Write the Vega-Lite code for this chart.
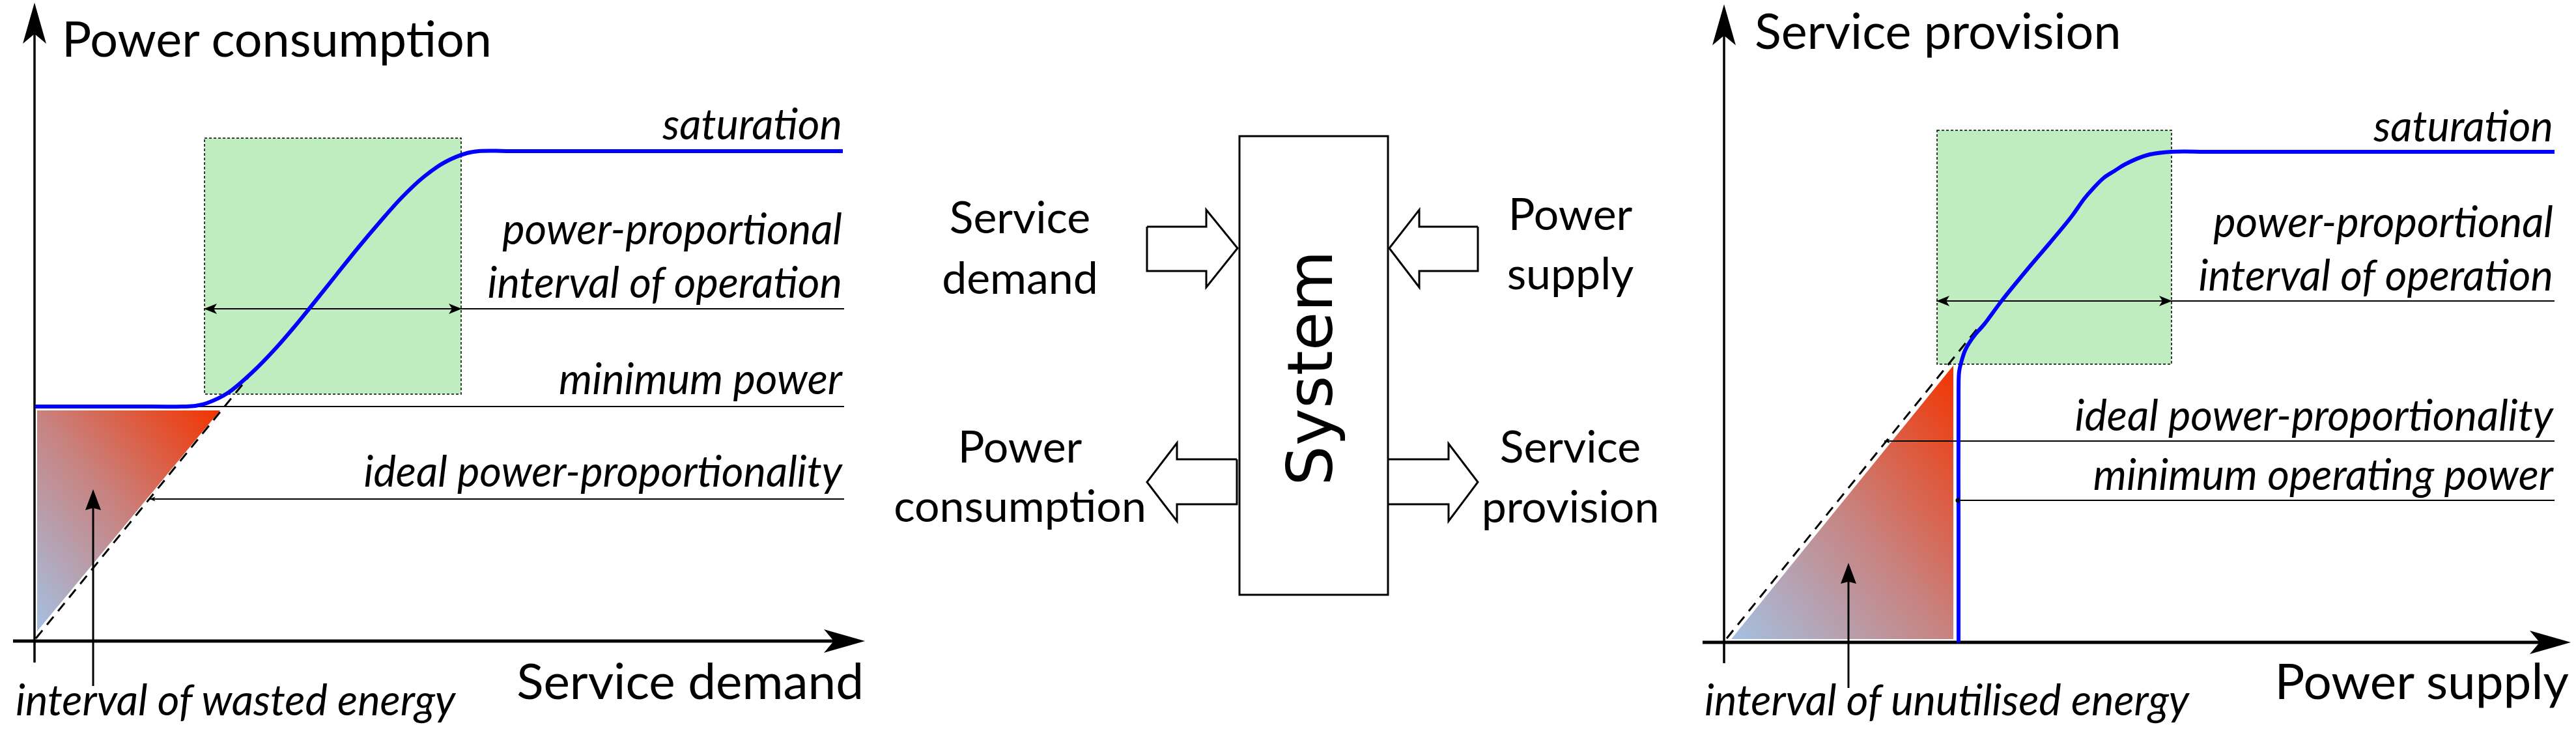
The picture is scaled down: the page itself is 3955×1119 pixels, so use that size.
{
  "$schema": "https://vega.github.io/schema/vega-lite/v6.json",
  "width": 3955,
  "height": 1119,
  "padding": 0,
  "autosize": {"type": "none"},
  "background": "white",
  "config": {"view": {"stroke": null}},
  "datasets": {
    "zones": [
      {"panel": "demand", "x": 314, "x2": 708, "y": 212, "y2": 605},
      {"panel": "supply", "x": 2974, "x2": 3334, "y": 200, "y2": 559}
    ],
    "wedges": [
      {"tri": "wasted", "x": 57, "y": 630, "y2": 969},
      {"tri": "wasted", "x": 338, "y": 630, "y2": 630},
      {"tri": "unutilised", "x": 2658, "y": 981, "y2": 981},
      {"tri": "unutilised", "x": 2999, "y": 561, "y2": 981}
    ],
    "ideal": [
      {"x": 55, "y": 980, "x2": 392, "y2": 566},
      {"x": 2651, "y": 980, "x2": 3037, "y2": 503}
    ],
    "guides": [
      {"x": 54, "y": 624, "x2": 1296, "y2": 624},
      {"x": 313, "y": 474, "x2": 1296, "y2": 474},
      {"x": 230, "y": 766, "x2": 1296, "y2": 766},
      {"x": 2973, "y": 462, "x2": 3922, "y2": 462},
      {"x": 2893, "y": 677, "x2": 3922, "y2": 677},
      {"x": 3005, "y": 768, "x2": 3922, "y2": 768}
    ],
    "yaxes": [
      {"x": 53, "y": 40, "x2": 53, "y2": 1017},
      {"x": 2647, "y": 42, "x2": 2647, "y2": 1018}
    ],
    "xaxes": [
      {"x": 20, "y": 984, "x2": 1290, "y2": 984},
      {"x": 2614, "y": 986, "x2": 3905, "y2": 986}
    ],
    "shafts": [
      {"x": 143, "y": 780, "x2": 143, "y2": 1053},
      {"x": 2838, "y": 893, "x2": 2838, "y2": 1056}
    ],
    "curves": [
      {"c": "consumption", "i": 0, "x": 54, "y": 624},
      {"c": "consumption", "i": 1, "x": 200, "y": 624},
      {"c": "consumption", "i": 2, "x": 280, "y": 624},
      {"c": "consumption", "i": 3, "x": 300, "y": 623},
      {"c": "consumption", "i": 4, "x": 317, "y": 619},
      {"c": "consumption", "i": 5, "x": 350, "y": 603},
      {"c": "consumption", "i": 6, "x": 390, "y": 569},
      {"c": "consumption", "i": 7, "x": 423, "y": 535},
      {"c": "consumption", "i": 8, "x": 450, "y": 504},
      {"c": "consumption", "i": 9, "x": 477, "y": 471},
      {"c": "consumption", "i": 10, "x": 517, "y": 421},
      {"c": "consumption", "i": 11, "x": 550, "y": 380},
      {"c": "consumption", "i": 12, "x": 583, "y": 341},
      {"c": "consumption", "i": 13, "x": 617, "y": 303},
      {"c": "consumption", "i": 14, "x": 650, "y": 272},
      {"c": "consumption", "i": 15, "x": 683, "y": 249},
      {"c": "consumption", "i": 16, "x": 717, "y": 235},
      {"c": "consumption", "i": 17, "x": 735, "y": 232},
      {"c": "consumption", "i": 18, "x": 800, "y": 232},
      {"c": "consumption", "i": 19, "x": 1294, "y": 232},
      {"c": "provision", "i": 0, "x": 3007, "y": 986},
      {"c": "provision", "i": 1, "x": 3007, "y": 800},
      {"c": "provision", "i": 2, "x": 3007, "y": 600},
      {"c": "provision", "i": 3, "x": 3008, "y": 570},
      {"c": "provision", "i": 4, "x": 3012, "y": 553},
      {"c": "provision", "i": 5, "x": 3017, "y": 538},
      {"c": "provision", "i": 6, "x": 3023, "y": 527},
      {"c": "provision", "i": 7, "x": 3033, "y": 513},
      {"c": "provision", "i": 8, "x": 3047, "y": 497},
      {"c": "provision", "i": 9, "x": 3073, "y": 462},
      {"c": "provision", "i": 10, "x": 3113, "y": 413},
      {"c": "provision", "i": 11, "x": 3147, "y": 373},
      {"c": "provision", "i": 12, "x": 3180, "y": 333},
      {"c": "provision", "i": 13, "x": 3200, "y": 305},
      {"c": "provision", "i": 14, "x": 3213, "y": 290},
      {"c": "provision", "i": 15, "x": 3230, "y": 273},
      {"c": "provision", "i": 16, "x": 3247, "y": 262},
      {"c": "provision", "i": 17, "x": 3263, "y": 252},
      {"c": "provision", "i": 18, "x": 3297, "y": 238},
      {"c": "provision", "i": 19, "x": 3333, "y": 233},
      {"c": "provision", "i": 20, "x": 3400, "y": 233},
      {"c": "provision", "i": 21, "x": 3922, "y": 233}
    ],
    "box": [{"x": 1903, "x2": 2131, "y": 209, "y2": 913}],
    "flows": [
      {"a": "Service demand", "i": 0, "x": 1761, "y": 348},
      {"a": "Service demand", "i": 1, "x": 1852, "y": 348},
      {"a": "Service demand", "i": 2, "x": 1852, "y": 322},
      {"a": "Service demand", "i": 3, "x": 1900, "y": 381},
      {"a": "Service demand", "i": 4, "x": 1852, "y": 441},
      {"a": "Service demand", "i": 5, "x": 1852, "y": 416},
      {"a": "Service demand", "i": 6, "x": 1761, "y": 416},
      {"a": "Service demand", "i": 7, "x": 1761, "y": 348},
      {"a": "Power supply", "i": 0, "x": 2269, "y": 348},
      {"a": "Power supply", "i": 1, "x": 2179, "y": 348},
      {"a": "Power supply", "i": 2, "x": 2179, "y": 322},
      {"a": "Power supply", "i": 3, "x": 2133, "y": 381},
      {"a": "Power supply", "i": 4, "x": 2179, "y": 441},
      {"a": "Power supply", "i": 5, "x": 2179, "y": 416},
      {"a": "Power supply", "i": 6, "x": 2269, "y": 416},
      {"a": "Power supply", "i": 7, "x": 2269, "y": 348},
      {"a": "Power consumption", "i": 0, "x": 1899, "y": 705},
      {"a": "Power consumption", "i": 1, "x": 1807, "y": 705},
      {"a": "Power consumption", "i": 2, "x": 1807, "y": 680},
      {"a": "Power consumption", "i": 3, "x": 1761, "y": 740},
      {"a": "Power consumption", "i": 4, "x": 1807, "y": 800},
      {"a": "Power consumption", "i": 5, "x": 1807, "y": 774},
      {"a": "Power consumption", "i": 6, "x": 1899, "y": 774},
      {"a": "Power consumption", "i": 7, "x": 1899, "y": 705},
      {"a": "Service provision", "i": 0, "x": 2131, "y": 705},
      {"a": "Service provision", "i": 1, "x": 2224, "y": 705},
      {"a": "Service provision", "i": 2, "x": 2224, "y": 681},
      {"a": "Service provision", "i": 3, "x": 2269, "y": 740},
      {"a": "Service provision", "i": 4, "x": 2224, "y": 800},
      {"a": "Service provision", "i": 5, "x": 2224, "y": 774},
      {"a": "Service provision", "i": 6, "x": 2131, "y": 774}
    ],
    "axisHeads": [
      {"x": 53, "y": 35.5, "angle": 0},
      {"x": 1296.5, "y": 984, "angle": 90},
      {"x": 2647, "y": 38, "angle": 0},
      {"x": 3915.5, "y": 986, "angle": 90}
    ],
    "spanHeads": [
      {"x": 323, "y": 474, "angle": 270},
      {"x": 699, "y": 474, "angle": 90},
      {"x": 2983, "y": 462, "angle": 270},
      {"x": 3325, "y": 462, "angle": 90}
    ],
    "energyHeads": [
      {"x": 143, "y": 767, "angle": 0},
      {"x": 2838, "y": 880, "angle": 0}
    ],
    "tinyHeads": [
      {"x": 234, "y": 766, "angle": 270},
      {"x": 2897, "y": 677, "angle": 270}
    ],
    "dots": [{"x": 3006, "y": 768}],
    "titles": [
      {"x": 95, "y": 87, "t": "Power consumption"},
      {"x": 2694, "y": 75, "t": "Service provision"}
    ],
    "xtitles": [
      {"x": 1326, "y": 1073, "t": "Service demand"},
      {"x": 3944, "y": 1073, "t": "Power supply"}
    ],
    "notes": [
      {"x": 1293, "y": 214, "t": "saturation"},
      {"x": 1293, "y": 375, "t": "power-proportional"},
      {"x": 1293, "y": 457, "t": "interval of operation"},
      {"x": 1293, "y": 605, "t": "minimum power"},
      {"x": 1293, "y": 747, "t": "ideal power-proportionality"},
      {"x": 3920, "y": 217, "t": "saturation"},
      {"x": 3920, "y": 364, "t": "power-proportional"},
      {"x": 3920, "y": 446, "t": "interval of operation"},
      {"x": 3920, "y": 661, "t": "ideal power-proportionality"},
      {"x": 3920, "y": 752, "t": "minimum operating power"}
    ],
    "bottomNotes": [
      {"x": 24, "y": 1098, "t": "interval of wasted energy"},
      {"x": 2617, "y": 1098, "t": "interval of unutilised energy"}
    ],
    "flowLabels": [
      {"x": 1566, "y": 358, "t": "Service"},
      {"x": 1566, "y": 451, "t": "demand"},
      {"x": 2411, "y": 353, "t": "Power"},
      {"x": 2411, "y": 444, "t": "supply"},
      {"x": 1566, "y": 710, "t": "Power"},
      {"x": 1566, "y": 801, "t": "consumption"},
      {"x": 2411, "y": 710, "t": "Service"},
      {"x": 2411, "y": 802, "t": "provision"}
    ],
    "system": [{"x": 2045, "y": 565, "t": "System"}]
  },
  "encoding": {
    "x": {"field": "x", "type": "quantitative", "scale": {"domain": [0, 3955], "nice": false, "zero": false}, "axis": null},
    "y": {"field": "y", "type": "quantitative", "scale": {"domain": [0, 1119], "reverse": true, "nice": false, "zero": false}, "axis": null}
  },
  "layer": [
    {
      "data": {"name": "zones"},
      "mark": {"type": "rect", "fill": "#bfedbf", "stroke": "black", "strokeWidth": 1.5, "strokeDash": [4, 3]},
      "encoding": {"x2": {"field": "x2"}, "y2": {"field": "y2"}}
    },
    {
      "data": {"name": "wedges"},
      "mark": {
        "type": "area",
        "interpolate": "linear",
        "color": {
          "gradient": "linear",
          "x1": 0, "y1": 1, "x2": 1, "y2": 0,
          "stops": [
            {"offset": 0, "color": "#a4c0e2"},
            {"offset": 0.5, "color": "#c8827f"},
            {"offset": 1, "color": "#f23400"}
          ]
        }
      },
      "encoding": {
        "y": {"field": "y", "type": "quantitative", "stack": null},
        "y2": {"field": "y2"},
        "detail": {"field": "tri"}
      }
    },
    {
      "data": {"name": "ideal"},
      "mark": {"type": "rule", "color": "black", "strokeWidth": 3, "strokeDash": [16, 11]},
      "encoding": {"x2": {"field": "x2"}, "y2": {"field": "y2"}}
    },
    {
      "data": {"name": "guides"},
      "mark": {"type": "rule", "color": "black", "strokeWidth": 2.2},
      "encoding": {"x2": {"field": "x2"}, "y2": {"field": "y2"}}
    },
    {
      "data": {"name": "yaxes"},
      "mark": {"type": "rule", "color": "black", "strokeWidth": 3.5},
      "encoding": {"x2": {"field": "x2"}, "y2": {"field": "y2"}}
    },
    {
      "data": {"name": "xaxes"},
      "mark": {"type": "rule", "color": "black", "strokeWidth": 5},
      "encoding": {"x2": {"field": "x2"}, "y2": {"field": "y2"}}
    },
    {
      "data": {"name": "shafts"},
      "mark": {"type": "rule", "color": "black", "strokeWidth": 3},
      "encoding": {"x2": {"field": "x2"}, "y2": {"field": "y2"}}
    },
    {
      "data": {"name": "curves"},
      "mark": {"type": "line", "color": "#0000ff", "strokeWidth": 6, "interpolate": "catmull-rom"},
      "encoding": {"detail": {"field": "c"}, "order": {"field": "i", "type": "quantitative"}}
    },
    {
      "data": {"name": "axisHeads"},
      "mark": {"type": "point", "shape": "M0,-1L0.57,1L0,0.52L-0.57,1Z", "size": 3969, "filled": true, "color": "black", "opacity": 1},
      "encoding": {"angle": {"field": "angle", "type": "quantitative", "scale": null}}
    },
    {
      "data": {"name": "spanHeads"},
      "mark": {"type": "point", "shape": "M0,-1L0.8,1L0,0.5L-0.8,1Z", "size": 400, "filled": true, "color": "black", "opacity": 1},
      "encoding": {"angle": {"field": "angle", "type": "quantitative", "scale": null}}
    },
    {
      "data": {"name": "energyHeads"},
      "mark": {"type": "point", "shape": "M0,-1L0.75,1L0,0.8L-0.75,1Z", "size": 1024, "filled": true, "color": "black", "opacity": 1},
      "encoding": {"angle": {"field": "angle", "type": "quantitative", "scale": null}}
    },
    {
      "data": {"name": "tinyHeads"},
      "mark": {"type": "point", "shape": "M0,-1L0.8,1L0,0.5L-0.8,1Z", "size": 81, "filled": true, "color": "black", "opacity": 1},
      "encoding": {"angle": {"field": "angle", "type": "quantitative", "scale": null}}
    },
    {
      "data": {"name": "dots"},
      "mark": {"type": "point", "shape": "circle", "size": 50, "filled": true, "color": "black", "opacity": 1}
    },
    {
      "data": {"name": "box"},
      "mark": {"type": "rect", "fill": "white", "stroke": "black", "strokeWidth": 3},
      "encoding": {"x2": {"field": "x2"}, "y2": {"field": "y2"}}
    },
    {
      "data": {"name": "flows"},
      "mark": {"type": "line", "color": "black", "strokeWidth": 3, "interpolate": "linear", "strokeJoin": "miter"},
      "encoding": {"detail": {"field": "a"}, "order": {"field": "i", "type": "quantitative"}}
    },
    {
      "data": {"name": "titles"},
      "mark": {"type": "text", "font": "Lato", "fontSize": 75.5, "align": "left", "baseline": "alphabetic", "color": "black"},
      "encoding": {"text": {"field": "t"}}
    },
    {
      "data": {"name": "xtitles"},
      "mark": {"type": "text", "font": "Lato", "fontSize": 76.5, "align": "right", "baseline": "alphabetic", "color": "black"},
      "encoding": {"text": {"field": "t"}}
    },
    {
      "data": {"name": "notes"},
      "mark": {"type": "text", "font": "Lato", "fontStyle": "italic", "fontSize": 65, "align": "right", "baseline": "alphabetic", "color": "black"},
      "encoding": {"text": {"field": "t"}}
    },
    {
      "data": {"name": "bottomNotes"},
      "mark": {"type": "text", "font": "Lato", "fontStyle": "italic", "fontSize": 65, "align": "left", "baseline": "alphabetic", "color": "black"},
      "encoding": {"text": {"field": "t"}}
    },
    {
      "data": {"name": "flowLabels"},
      "mark": {"type": "text", "font": "Lato", "fontSize": 68, "align": "center", "baseline": "alphabetic", "color": "black"},
      "encoding": {"text": {"field": "t"}}
    },
    {
      "data": {"name": "system"},
      "mark": {"type": "text", "font": "DejaVu Sans", "fontSize": 97, "angle": 270, "align": "center", "baseline": "alphabetic", "color": "black"},
      "encoding": {"text": {"field": "t"}}
    }
  ]
}
